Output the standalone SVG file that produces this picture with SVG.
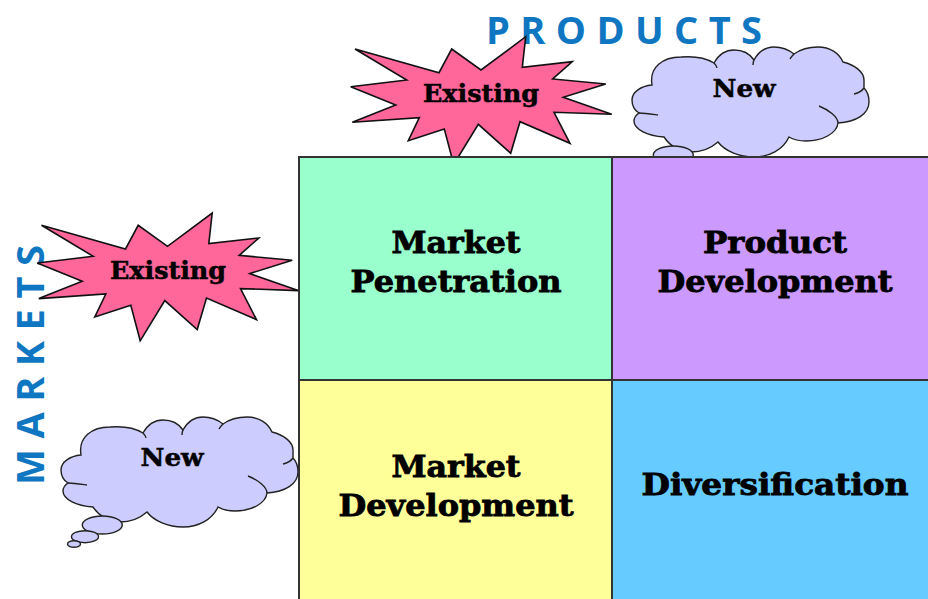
<svg xmlns="http://www.w3.org/2000/svg" width="928" height="599" viewBox="0 0 928 599">
<style>
.cell{stroke:#333;stroke-width:2}
.star{fill:#FF6699;stroke:#111;stroke-width:1.6;stroke-linejoin:miter}
.cloud{fill:#CCCCFF;stroke:#222;stroke-width:1.4}
.crease{fill:none;stroke:#222;stroke-width:1.4}
.lab{font-family:"DejaVu Serif",serif;font-weight:700;fill:#000;text-anchor:middle}
.big{font-size:29px;stroke:#000;stroke-width:.8}
.small{font-size:24px;stroke:#000;stroke-width:.5}
.axis{font-family:"Open Sans",sans-serif;font-weight:700;font-size:38px;fill:#0F77C2}
</style>
<defs>
<polygon id="burst" class="star" points="355,49 439,72.7 451.7,49 481,70 525.7,36.7 522.3,67.3 572.3,61.7 552.7,79 605.7,84 563.3,97.3 611.7,114.3 554,112.3 570,143.3 520,121.7 510.7,153.3 478.3,124.3 453.7,164.5 444.3,129 408.3,140.7 419.3,117.7 352.3,122.3 395.7,105 350.7,86.7 406.7,80"/>
<g id="thought">
<path class="cloud" d="M81,455C78,437 92,427 110,427C122,426 135,428 143,433C148,424 155,420 163,420C172,420 179,424 183,430C188,421 195,417 203,417C211,417 218,420 223,424C230,419 238,417 247,417C259,417 268,423 272,432C284,435 293,442 293,450C293,453 293,456 293,458C297,462 298,467 298,472C298,484 285,492 267,493C266,503 252,511 235,511C228,511 223,510 218,507C212,520 198,527 183,527C168,527 154,521 147,512C139,519 130,522 120,522C109,522 99,516 93,507C76,506 63,499 63,491C63,488 65,485 68,483C63,480 61,475 61,470C61,462 70,456 81,455Z"/>
<path class="crease" d="M248,476C258,480 267,487 267,493M68,483C74,483 80,484 87,485M293,458C291,461 287,463 283,464M143,433C145,435 146,436 146,438M183,430C182,432 182,433 182,435M223,424C221,426 220,427 219,429"/>
<ellipse class="cloud" cx="102.3" cy="525" rx="20" ry="9"/>
<ellipse class="cloud" cx="85" cy="536.7" rx="13.5" ry="6"/>
<ellipse class="cloud" cx="74" cy="544" rx="6.5" ry="3.3"/>
</g>
</defs>
<g id="node-products-label"><text class="axis" x="486" y="44" textLength="276" lengthAdjust="spacing">PRODUCTS</text></g>
<g id="node-markets-label"><text class="axis" transform="translate(44,485) rotate(-90)" textLength="240" lengthAdjust="spacing">MARKETS</text></g>
<g id="node-products-existing"><use href="#burst"/></g>
<g id="node-products-new"><use href="#thought" transform="translate(571,-370)"/></g>
<g id="node-markets-existing"><use href="#burst" transform="translate(-313.5,176.3)"/></g>
<g id="node-markets-new"><use href="#thought"/></g>
<g id="node-penetration"><rect class="cell" x="299" y="157" width="313" height="223" fill="#99FFCC"/></g>
<g id="node-product-dev"><rect class="cell" x="612" y="157" width="320" height="223" fill="#CC99FF"/></g>
<g id="node-market-dev"><rect class="cell" x="299" y="380" width="313" height="223" fill="#FFFF99"/></g>
<g id="node-diversification"><rect class="cell" x="612" y="380" width="320" height="223" fill="#66CCFF"/></g>
<g id="labels">
<text class="lab small" x="481" y="102" textLength="116" lengthAdjust="spacingAndGlyphs">Existing</text>
<text class="lab small" x="744" y="97" textLength="63" lengthAdjust="spacingAndGlyphs">New</text>
<text class="lab small" x="168" y="279" textLength="116" lengthAdjust="spacingAndGlyphs">Existing</text>
<text class="lab small" x="172" y="466" textLength="63" lengthAdjust="spacingAndGlyphs">New</text>
<text class="lab big" x="456" y="253" textLength="129" lengthAdjust="spacingAndGlyphs">Market</text>
<text class="lab big" x="456" y="292" textLength="211" lengthAdjust="spacingAndGlyphs">Penetration</text>
<text class="lab big" x="775" y="253" textLength="144" lengthAdjust="spacingAndGlyphs">Product</text>
<text class="lab big" x="775" y="292" textLength="235" lengthAdjust="spacingAndGlyphs">Development</text>
<text class="lab big" x="456" y="477" textLength="129" lengthAdjust="spacingAndGlyphs">Market</text>
<text class="lab big" x="456" y="516" textLength="235" lengthAdjust="spacingAndGlyphs">Development</text>
<text class="lab big" x="775" y="495" textLength="267" lengthAdjust="spacingAndGlyphs">Diversification</text>
</g>
</svg>
